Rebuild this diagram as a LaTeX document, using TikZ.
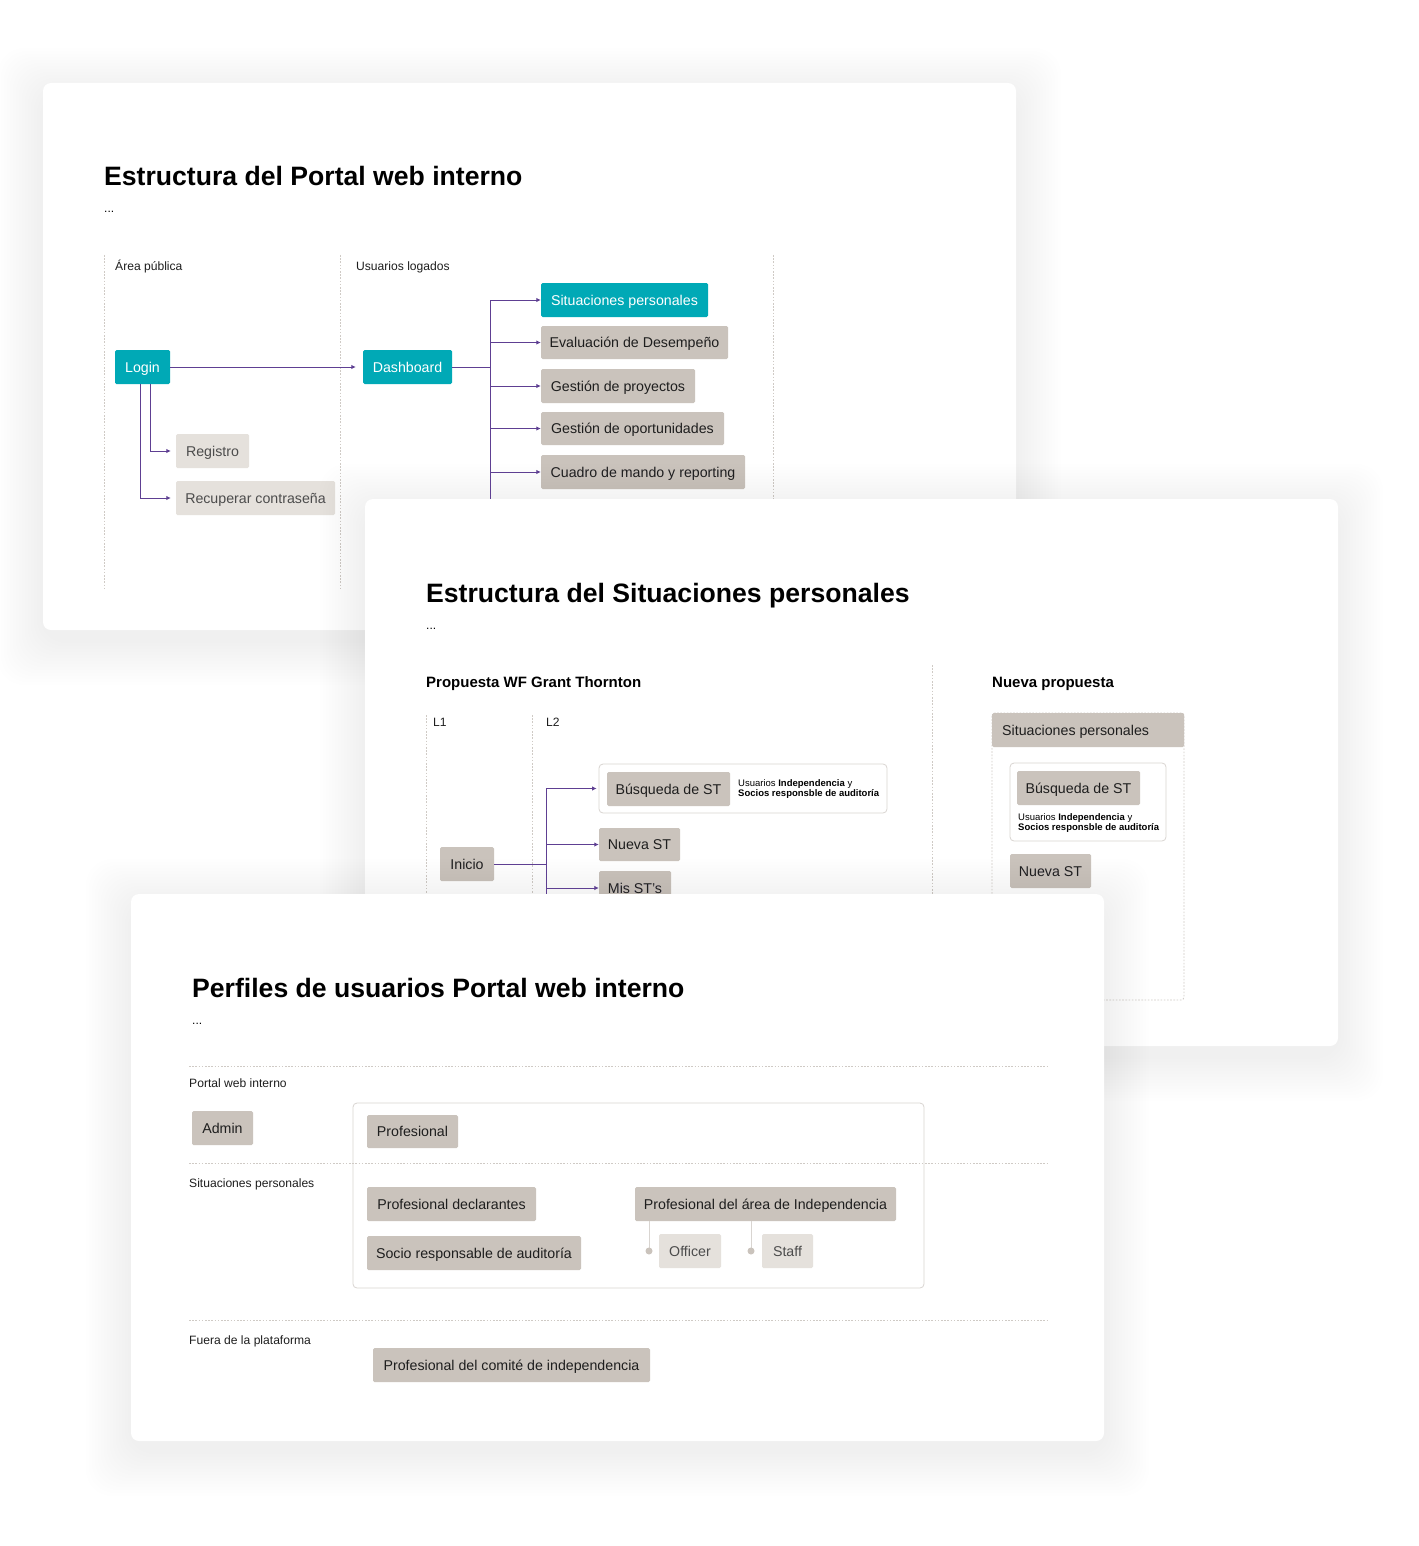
\documentclass[tikz,border=0pt]{standalone}
\usepackage{fontspec}
\setmainfont{Liberation Sans}
\usetikzlibrary{arrows.meta}
\definecolor{teal}{HTML}{00A9B6}
\definecolor{beige}{HTML}{CAC3BC}
\definecolor{lightb}{HTML}{E5E1DC}
\definecolor{purp}{HTML}{5E3F92}
\definecolor{dotc}{HTML}{CFCAC5}
\definecolor{shadowc}{HTML}{6A5A9A}
\definecolor{txt}{HTML}{1E1E1E}
\definecolor{frame}{HTML}{D9D5D1}
\newcommand\bx[7]{\pgfmathsetmacro\bw{#4-#2}\pgfmathsetmacro\bh{#5-#3}%
  \node[#6,minimum width=\bw pt,minimum height=\bh pt] (#1) at ({(#2+#4)/2},{(#3+#5)/2}) {#7};}
\newcommand\card[4]{%
  \foreach \s in {3,6,...,45}{\fill[shadowc,opacity=0.0028,rounded corners=26pt] ({#1-\s},{#2-\s+10}) rectangle ({#3+\s},{#4+\s+10});}
  \fill[white,rounded corners=8pt] (#1,#2) rectangle (#3,#4);}
\tikzset{
  boxb/.style={rectangle,rounded corners=1.5pt,fill=beige,inner sep=0pt,text=txt,
    text height=12pt,text depth=1.5pt,font=\fontsize{14.2}{16}\selectfont},
  boxt/.style={boxb,fill=teal,text=white},
  boxl/.style={boxb,fill=lightb,text=black!70},
  lbl/.style={anchor=west,inner sep=0pt,text=txt,text height=10pt,text depth=1pt,font=\fontsize{12.1}{13}\selectfont},
  ttl/.style={anchor=base west,inner sep=0pt,text=black,font=\fontsize{26.6}{30}\selectfont\bfseries},
  dots/.style={anchor=base west,inner sep=0pt,text=black,font=\fontsize{12}{14}\selectfont},
  sub/.style={anchor=west,inner sep=0pt,text=black,text height=12pt,text depth=1pt,font=\fontsize{15}{16}\selectfont\bfseries},
  arr/.style={draw=purp,line width=0.9pt,-{Latex[length=4.5pt,width=4.5pt]}},
  ln/.style={draw=purp,line width=0.9pt},
  dl/.style={draw=dotc,line width=0.8pt,dash pattern=on 1.6pt off 1.6pt},
  fr/.style={draw=frame,line width=0.8pt,rounded corners=4pt,fill=white},
  small/.style={anchor=west,align=left,inner sep=0pt,text=black,font=\fontsize{9.5}{10}\selectfont},
}
\begin{document}
\begin{tikzpicture}[x=1pt,y=-1pt]
\fill[white] (0,0) rectangle (1418,1546);
\useasboundingbox (0,0) rectangle (1418,1546);

% ---------------- Card 1 ----------------
\card{43}{83}{1016}{630}
\node[ttl] (t1) at (104,186) {Estructura del Portal web interno};
\node[dots] (d1) at (104,213) {...};
\draw[dl] (104,255) -- (104,588);
\draw[dl] (340,255) -- (340,588);
\draw[dl] (773,255) -- (773,520);
\node[lbl] (l1a) at (115,266) {Área pública};
\node[lbl] (l1b) at (356,266) {Usuarios logados};
\bx{login}{115}{350}{170}{384}{boxt}{Login}
\bx{dash}{363}{350}{452}{384}{boxt}{Dashboard}
\bx{sp}{541}{283}{708}{317}{boxt}{Situaciones personales}
\bx{ev}{541}{326}{728}{359}{boxb}{Evaluación de Desempeño}
\bx{gp}{541}{369}{695}{403}{boxb}{Gestión de proyectos}
\bx{go}{541}{412}{724}{445}{boxb}{Gestión de oportunidades}
\bx{cm}{541}{455}{745}{489}{boxb}{Cuadro de mando y reporting}
\bx{reg}{176}{434}{249}{468}{boxl}{Registro}
\bx{rec}{176}{481}{335}{515}{boxl}{Recuperar contraseña}
\draw[arr,shorten >=7pt] (login.east) -- (dash.west);
\coordinate (bus) at (490,367);
\coordinate (busend) at (490,520);
\draw[ln] (dash.east) -- (bus);
\draw[ln] (bus |- sp.west) -- (busend);
\foreach \n in {sp,ev,gp,go,cm}{\draw[arr] (bus |- \n.west) -- (\n.west);}
\draw[arr,shorten >=5pt] ([xshift=7.5pt]login.south) |- (reg.west);
\draw[arr,shorten >=5pt] ([xshift=-2.5pt]login.south) |- (rec.west);

% ---------------- Card 2 ----------------
\card{365}{499}{1338}{1046}
\node[ttl] (t2) at (426,602) {Estructura del Situaciones personales};
\node[dots] (d2) at (426,629) {...};
\node[sub] (s2a) at (426,682) {Propuesta WF Grant Thornton};
\node[sub] (s2b) at (992,682) {Nueva propuesta};
\draw[dl] (932,665) -- (932,910);
\draw[dl] (426,715) -- (426,910);
\draw[dl] (532,715) -- (532,910);
\node[lbl] (l2a) at (433,722) {L1};
\node[lbl] (l2b) at (546,722) {L2};
\bx{inicio}{440}{847}{494}{881}{boxb}{Inicio}
\bx{bfr}{599}{764}{887}{813}{fr}{}
\bx{bus1}{607}{772}{730}{806}{boxb}{Búsqueda de ST}
\node[small] (sm1) at (738,789) {Usuarios \textbf{Independencia} y\\\textbf{Socios responsble de auditoría}};
\bx{nst}{599}{828}{680}{861}{boxb}{Nueva ST}
\bx{mst}{599}{871}{671}{905}{boxb}{Mis ST’s}
\coordinate (bus2) at (546,864);
\coordinate (bus2end) at (546,910);
\draw[ln] (inicio.east) -- (bus2);
\draw[ln] (bus2 |- bfr.west) -- (bus2end);
\draw[arr,shorten >=2pt] (bus2 |- bfr.west) -- (bfr.west);
\draw[arr] (bus2 |- nst.west) -- (nst.west);
\draw[arr] (bus2 |- mst.west) -- (mst.west);
% nueva propuesta
\draw[dl,rounded corners=3pt] (992,713) rectangle (1184,1000);
\bx{hdr}{992}{713}{1184}{747}{boxb}{}
\node[boxb,fill=none,anchor=west] (hdrt) at (1002,730) {Situaciones personales};
\bx{nfr}{1010}{763}{1166}{841}{fr}{}
\bx{bus2b}{1017}{771}{1140}{805}{boxb}{Búsqueda de ST}
\node[small] (sm2) at (1018,823) {Usuarios \textbf{Independencia} y\\\textbf{Socios responsble de auditoría}};
\bx{nst2}{1010}{854}{1091}{888}{boxb}{Nueva ST}

% ---------------- Card 3 ----------------
\card{131}{894}{1104}{1441}
\node[ttl] (t3) at (192,997) {Perfiles de usuarios Portal web interno};
\node[dots] (d3) at (192,1024) {...};
\bx{pfr}{353}{1103}{924}{1288}{fr}{}
\draw[dl] (189,1066) -- (1047,1066);
\draw[dl] (189,1163) -- (1047,1163);
\draw[dl] (189,1320) -- (1047,1320);
\node[lbl] (l3a) at (189,1083) {Portal web interno};
\node[lbl] (l3b) at (189,1183) {Situaciones personales};
\node[lbl] (l3c) at (189,1340) {Fuera de la plataforma};
\bx{admin}{192}{1111}{253}{1145}{boxb}{Admin}
\bx{prof}{367}{1115}{458}{1148}{boxb}{Profesional}
\bx{pdec}{367}{1187}{536}{1221}{boxb}{Profesional declarantes}
\bx{socio}{367}{1236}{581}{1270}{boxb}{Socio responsable de auditoría}
\bx{pai}{635}{1187}{896}{1221}{boxb}{Profesional del área de Independencia}
\bx{off}{659}{1234}{721}{1268}{boxl}{Officer}
\bx{stf}{762}{1234}{813}{1268}{boxl}{Staff}
\bx{pci}{373}{1348}{650}{1382}{boxb}{Profesional del comité de independencia}
\coordinate (c1) at (649,1251);
\coordinate (c2) at (751,1251);
\draw[draw=frame,line width=0.8pt] (c1 |- pai.south) -- (c1);
\draw[draw=frame,line width=0.8pt] (c2 |- pai.south) -- (c2);
\fill[beige] (c1) circle (3.5pt);
\fill[beige] (c2) circle (3.5pt);
\end{tikzpicture}
\end{document}
